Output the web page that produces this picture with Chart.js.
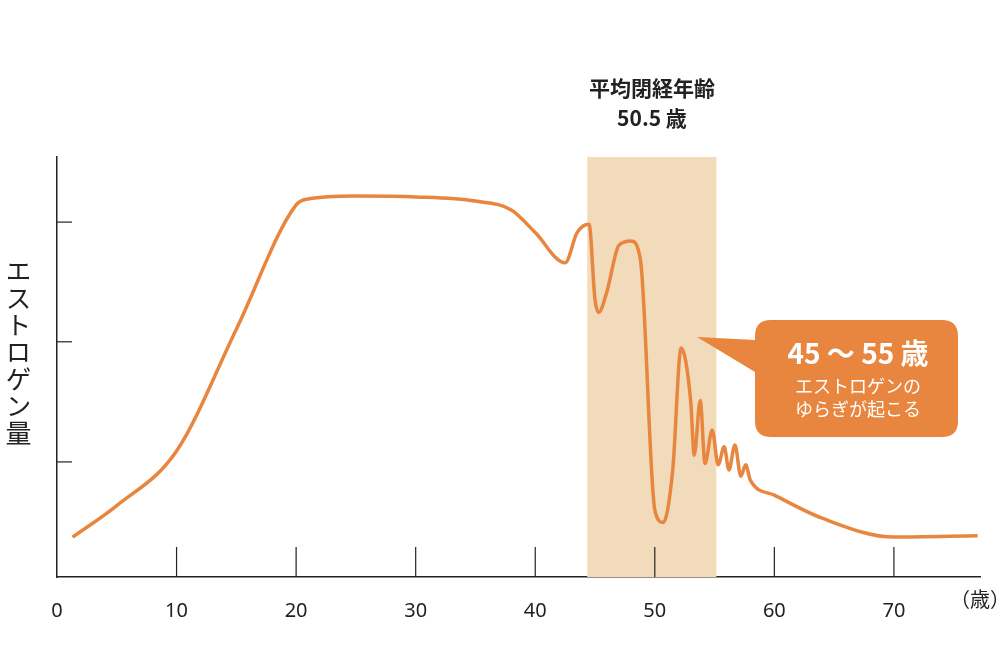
<!DOCTYPE html>
<html><head><meta charset="utf-8">
<script src="https://cdn.jsdelivr.net/npm/chart.js@4"></script>
<style>
body{margin:0;background:#fff;font-family:"Noto Sans CJK JP","Noto Sans",sans-serif}
#wrap{position:relative;width:1000px;height:667px}
.lbl{position:absolute;color:#222}
</style></head><body>
<div id="wrap">
<canvas id="c" width="1000" height="667"></canvas>
<div class="lbl" style="left:0;top:258px;writing-mode:vertical-rl;font-size:26px;letter-spacing:1px">エストロゲン量</div>
<div class="lbl" style="left:552px;top:72px;width:200px;text-align:center;font-size:21px;font-weight:bold;line-height:30px">平均閉経年齢<br>50.5 歳</div>
<div class="lbl" style="left:950px;top:584px;font-size:20px">（歳）</div>
</div>
<script>
// ages (years) and relative estrogen level
const ages = [1.3,5,10,15,20,21,25,30,35,38,40,42.5,43.5,44.5,45,45.3,46,47,48,48.8,50,50.7,51.5,52.2,53,53.3,53.8,54.2,54.8,55.3,55.8,56.2,56.7,57.2,57.6,58,60,64,70,77];
const levels = [9.5,17,30,59,88.6,90,90.7,90.5,89.5,87.4,82,74.8,82,84,66,63,68,79,80,75.5,16,13,25.5,54.5,42,29,42,27,35,26.7,31,25.5,31.4,24,26.7,23,19.5,14,9.5,9.8];
const xTicks = [0,10,20,30,40,50,60,70];
const yTicks = [27.4,56,84.5];
const band = [44.35,55.15];

const ORANGE = '#e8863f';

const decor = {
  id: 'decor',
  beforeDatasetsDraw(chart) {
    const {ctx, chartArea: a, scales: {x, y}} = chart;
    ctx.save();
    ctx.fillStyle = '#f2dbbb';
    ctx.fillRect(x.getPixelForValue(band[0]), a.top, x.getPixelForValue(band[1]) - x.getPixelForValue(band[0]), a.bottom - a.top);
    ctx.strokeStyle = '#222'; ctx.lineWidth = 1.2;
    xTicks.slice(1).forEach(v => {
      const px = x.getPixelForValue(v);
      ctx.beginPath(); ctx.moveTo(px, a.bottom); ctx.lineTo(px, a.bottom - 30); ctx.stroke();
    });
    yTicks.forEach(v => {
      const py = y.getPixelForValue(v);
      ctx.beginPath(); ctx.moveTo(a.left, py); ctx.lineTo(a.left + 15, py); ctx.stroke();
    });
    ctx.restore();
  },
  afterDatasetsDraw(chart) {
    const {ctx} = chart;
    ctx.save();
    ctx.fillStyle = ORANGE;
    const bx = 755, by = 320, bw = 203, bh = 117, r = 16;
    ctx.beginPath();
    ctx.moveTo(bx + r, by);
    ctx.lineTo(bx + bw - r, by); ctx.quadraticCurveTo(bx + bw, by, bx + bw, by + r);
    ctx.lineTo(bx + bw, by + bh - r); ctx.quadraticCurveTo(bx + bw, by + bh, bx + bw - r, by + bh);
    ctx.lineTo(bx + r, by + bh); ctx.quadraticCurveTo(bx, by + bh, bx, by + bh - r);
    ctx.lineTo(bx, 372); ctx.lineTo(697, 337); ctx.lineTo(bx, 340);
    ctx.lineTo(bx, by + r); ctx.quadraticCurveTo(bx, by, bx + r, by);
    ctx.fill();
    ctx.fillStyle = '#fff'; ctx.textAlign = 'center';
    ctx.font = 'bold 28px "Noto Sans CJK JP"';
    ctx.fillText('45 ～ 55 歳', 858, 364);
    ctx.font = '18px "Noto Sans CJK JP"';
    ctx.fillText('エストロゲンの', 858, 393);
    ctx.fillText('ゆらぎが起こる', 858, 416);
    ctx.restore();
  }
};

new Chart(document.getElementById('c'), {
  type: 'line',
  data: {
    datasets: [{
      data: ages.map((a, i) => ({x: a, y: levels[i]})),
      borderColor: ORANGE, borderWidth: 3.5, pointRadius: 0,
      cubicInterpolationMode: 'monotone'
    }]
  },
  options: {
    responsive: false, animation: false,
    layout: {padding: {left: 57, top: 157, right: 20, bottom: 0}},
    plugins: {legend: {display: false}, tooltip: {enabled: false}},
    scales: {
      x: {
        type: 'linear', min: 0, max: 77.2,
        afterBuildTicks: s => { s.ticks = xTicks.map(v => ({value: v})); },
        afterFit: s => { s.height = 90; },
        grid: {display: false},
        border: {display: true, color: '#222', width: 1.5},
        ticks: {color: '#222', padding: 14, maxRotation: 0, font: {size: 20, family: 'Noto Sans'}}
      },
      y: {
        min: 0, max: 100,
        afterFit: s => { s.width = 0; },
        grid: {display: false},
        border: {display: true, color: '#222', width: 1.5},
        ticks: {display: false}
      }
    }
  },
  plugins: [decor]
});
</script>
</body></html>
